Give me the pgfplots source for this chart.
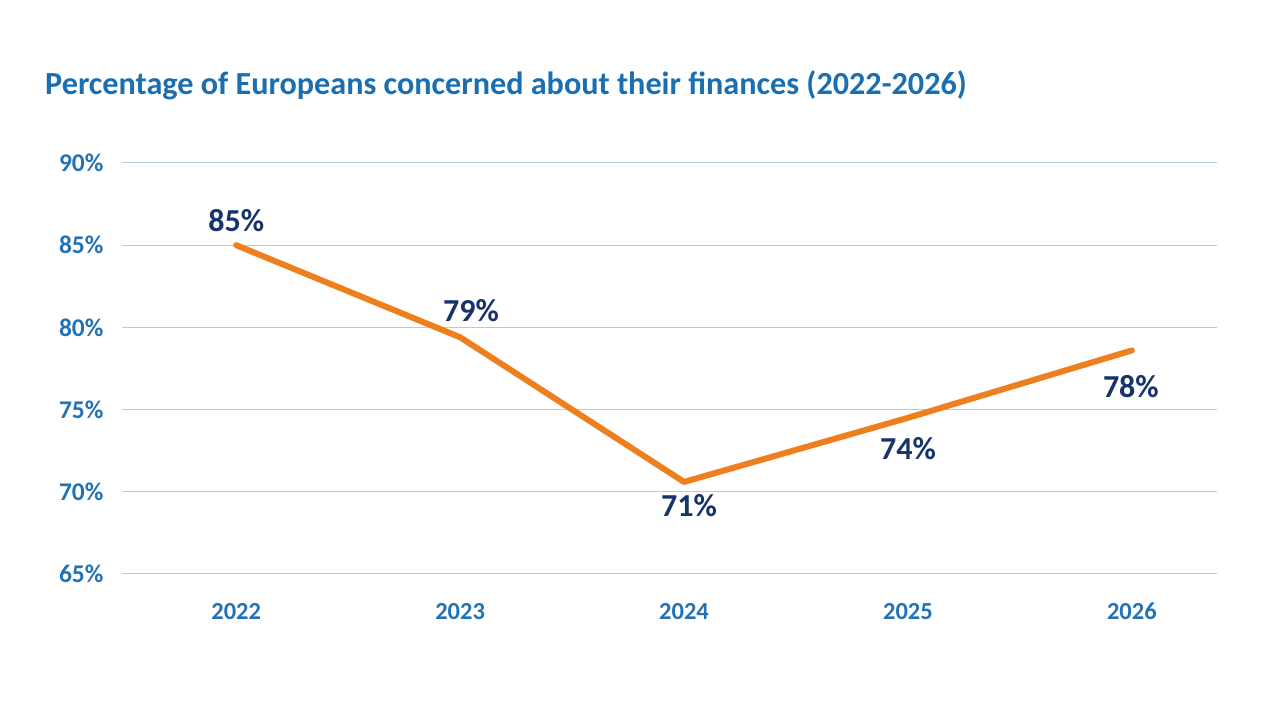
\documentclass[border=0pt]{standalone}
\usepackage{pgfplots}
\pgfplotsset{compat=1.18}
\usepackage{fontspec}
\setmainfont{Carlito}
\definecolor{titleblue}{HTML}{1B6FB0}
\definecolor{tickblue}{HTML}{2272B4}
\definecolor{navy}{HTML}{17336B}
\definecolor{lineorange}{HTML}{EE7F1E}
\definecolor{gridblue}{HTML}{B4CBE8}
\pgfplotsset{dlab/.style={draw=none, nodes near coords, point meta=explicit symbolic,
  every node near coord/.style={font=\fontsize{32}{36}\selectfont\bfseries, text=navy, anchor=center, inner sep=0pt, #1}}}
\begin{document}
\begin{tikzpicture}
\path[use as bounding box] (0,0) rectangle (1280pt,720pt);
\node[anchor=base west, font=\fontsize{32.2}{36}\selectfont\bfseries, text=titleblue, inner sep=0pt] at (45pt,720pt-95pt) {Percentage of Europeans concerned about their finances (2022-2026)};
\begin{axis}[
  at={(122pt,146pt)}, anchor=south west,
  scale only axis, width=1095pt, height=411pt,
  xmin=-0.51, xmax=4.38, ymin=65, ymax=90,
  xtick={0,1,2,3,4}, xticklabels={2022,2023,2024,2025,2026},
  ytick={65,70,75,80,85,90},
  yticklabel={\pgfmathprintnumber{\tick}\%},
  /pgf/number format/assume math mode=true,
  ymajorgrids, grid style={gridblue, line width=1pt},
  axis line style={draw=none}, major tick length=0pt,
  tick label style={font=\fontsize{24.5}{28}\selectfont\bfseries, text=tickblue},
  yticklabel style={font=\fontsize{25.5}{28}\selectfont\bfseries, xshift=-15pt},
  xticklabel style={anchor=base, inner sep=0pt, yshift=-46pt},
  clip=false,
]
\addplot[lineorange, line width=6pt, line cap=round, line join=round] coordinates {(0,85.0) (1,79.4) (2,70.6) (3,74.5) (4,78.6)};
\addplot[dlab={yshift=25pt}] coordinates {(0,85.0) [85\%]};
\addplot[dlab={xshift=11pt, yshift=27pt}] coordinates {(1,79.4) [79\%]};
\addplot[dlab={xshift=5pt, yshift=-24pt}] coordinates {(2,70.6) [71\%]};
\addplot[dlab={yshift=-31pt}] coordinates {(3,74.5) [74\%]};
\addplot[dlab={xshift=-1pt, yshift=-36pt}] coordinates {(4,78.6) [78\%]};
\end{axis}
\end{tikzpicture}
\end{document}
